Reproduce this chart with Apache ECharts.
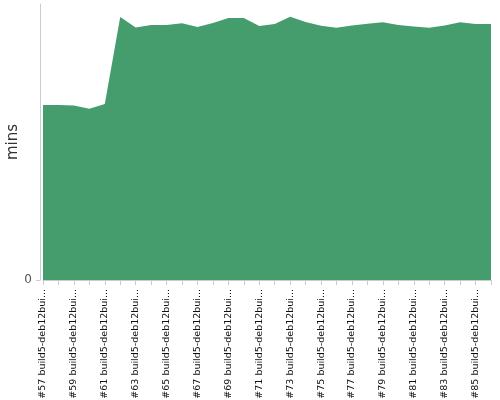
<!DOCTYPE html>
<html>
<head>
<meta charset="utf-8">
<script src="https://cdn.jsdelivr.net/npm/echarts@6/dist/echarts.min.js"></script>
<style>html,body{margin:0;padding:0;background:#fff}#c{width:500px;height:400px}</style>
</head>
<body>
<div id="c"></div>
<script>
const buildNumbers = [57,58,59,60,61,62,63,64,65,66,67,68,69,70,71,72,73,74,75,76,77,78,79,80,81,82,83,84,85,86];
const categories = buildNumbers.map(n => '#' + n + ' build5-deb12builder');
const durations = [10.14,10.14,10.12,9.93,10.20,15.25,14.64,14.78,14.78,14.88,14.67,14.90,15.19,15.19,14.72,14.84,15.26,14.96,14.74,14.63,14.75,14.85,14.94,14.78,14.70,14.63,14.75,14.94,14.84,14.84];
const yTicks = [0];

const chart = echarts.init(document.getElementById('c'));
chart.setOption({
  animation: false,
  grid: { left: 43, right: 9, top: 4, bottom: 120, containLabel: false, outerBoundsMode: 'none' },
  xAxis: {
    type: 'category',
    data: categories,
    boundaryGap: false,
    axisLine: { lineStyle: { color: '#cccccc' } },
    axisTick: { interval: 0, length: 5, lineStyle: { color: '#cccccc' } },
    axisLabel: {
      interval: 1,
      rotate: 90,
      margin: 9,
      fontSize: 9.5,
      color: '#111',
      fontFamily: 'DejaVu Sans',
      formatter: v => v.length > 19 ? v.slice(0, 19) + '...' : v
    }
  },
  yAxis: {
    type: 'value',
    min: 0,
    max: 16,
    offset: 3,
    name: 'mins',
    nameLocation: 'middle',
    nameGap: 19,
    nameMoveOverlap: false,
    nameTextStyle: { fontSize: 15, color: '#333', fontFamily: 'DejaVu Sans' },
    axisLine: { show: true, lineStyle: { color: '#cccccc' } },
    axisTick: { show: true, length: 4, customValues: yTicks, lineStyle: { color: '#cccccc' } },
    axisLabel: { customValues: yTicks, fontSize: 12, color: '#555', fontFamily: 'DejaVu Sans', margin: 8 },
    splitLine: { show: false }
  },
  series: [{
    type: 'line',
    data: durations,
    symbol: 'none',
    lineStyle: { width: 0 },
    areaStyle: { color: '#459d6d', opacity: 1 }
  }]
});
</script>
</body>
</html>
